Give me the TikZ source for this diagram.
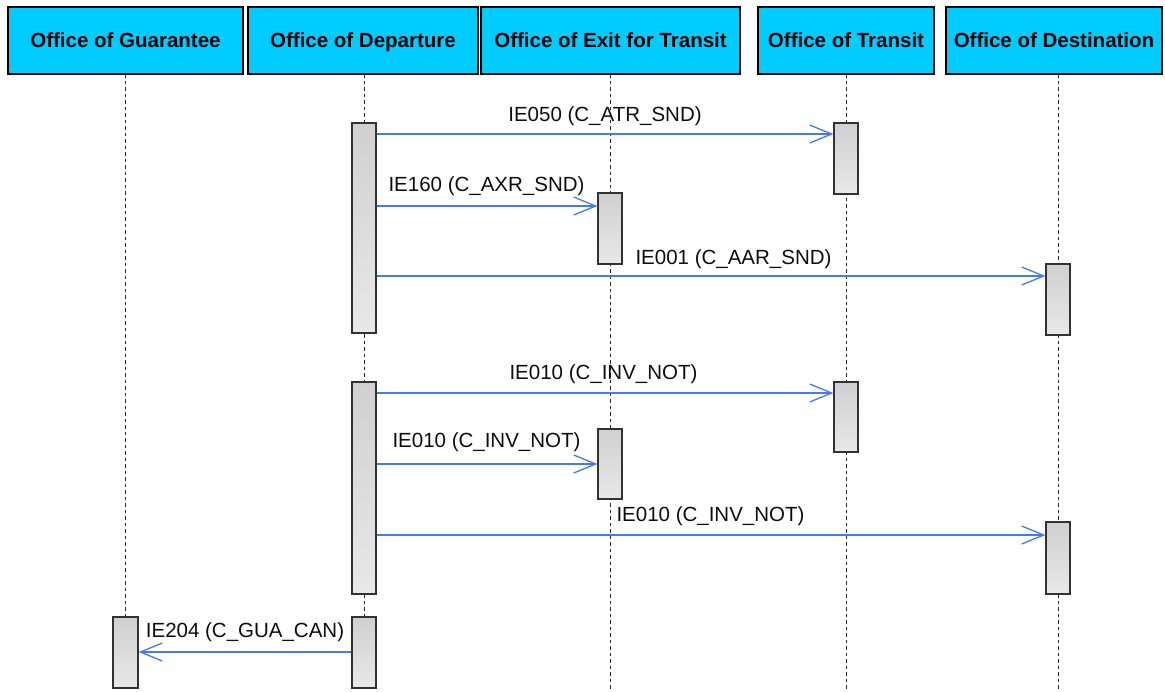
\documentclass[tikz,border=0pt]{standalone}
\usepackage{fontspec}
\setmainfont{Liberation Sans}
\usetikzlibrary{arrows.meta}
\definecolor{hdr}{RGB}{0,204,255}
\definecolor{msgblue}{RGB}{70,120,255}
\definecolor{bartop}{RGB}{208,208,208}
\definecolor{barbot}{RGB}{232,232,232}
\definecolor{barline}{RGB}{50,50,50}
\tikzset{
  hdrbox/.style={draw=black, line width=1.3pt, fill=hdr, inner sep=0pt, minimum height=67pt,
    text height=14.8pt, text depth=0pt,
    font=\fontsize{20.5}{24}\selectfont\bfseries},
  lifeline/.style={draw=black!85, line width=1pt, dash pattern=on 3.5pt off 3pt},
  actbar/.style={draw=barline, line width=1.2pt, top color=bartop, bottom color=barbot,
    minimum width=24pt, inner sep=0pt},
  msg/.style={draw=msgblue, line width=1.3pt, -{Straight Barb[length=22pt,width=18pt,line width=1.3pt]}},
  msglabel/.style={anchor=base, font=\fontsize{20.5}{24}\selectfont, text=black!95, inner sep=0pt}
}
\begin{document}
\begin{tikzpicture}[x=1pt,y=-1pt]
\useasboundingbox (0,0) rectangle (1165,691);
% headers
\node[hdrbox, minimum width=235pt] (hg) at (125.5,40.5) {Office of Guarantee};
\node[hdrbox, minimum width=230pt] (hd) at (363,40.5) {Office of Departure};
\node[hdrbox, minimum width=259pt] (he) at (610.5,40.5) {Office of Exit for Transit};
\node[hdrbox, minimum width=176pt] (ht) at (846,40.5) {Office of Transit};
\node[hdrbox, minimum width=216pt] (hn) at (1054,40.5) {Office of Destination};
% lifelines
\coordinate (lgt) at (125.5,74); \coordinate (lgb) at (125.5,691);
\coordinate (ldt) at (364,74);   \coordinate (ldb) at (364,691);
\coordinate (let) at (610,74);   \coordinate (leb) at (610,691);
\coordinate (ltt) at (846,74);   \coordinate (ltb) at (846,691);
\coordinate (lnt) at (1058,74);  \coordinate (lnb) at (1058,691);
\draw[lifeline] (lgt) -- (lgb);
\draw[lifeline] (ldt) -- (ldb);
\draw[lifeline] (let) -- (leb);
\draw[lifeline] (ltt) -- (ltb);
\draw[lifeline] (lnt) -- (lnb);
% activation bars
\node[actbar, minimum height=210pt] (d1) at (364,228) {};
\node[actbar, minimum height=71pt] (t1) at (846,158.5) {};
\node[actbar, minimum height=71pt] (e1) at (610,228.5) {};
\node[actbar, minimum height=71pt] (n1) at (1058,299.5) {};
\node[actbar, minimum height=212pt] (d2) at (364,488) {};
\node[actbar, minimum height=70pt] (t2) at (846,417) {};
\node[actbar, minimum height=70pt] (e2) at (610,464) {};
\node[actbar, minimum height=72pt] (n2) at (1058,558) {};
\node[actbar, minimum width=25pt, minimum height=71pt] (g1) at (125.5,652.5) {};
\node[actbar, minimum height=71pt] (d3) at (364,652.5) {};
% messages
\draw[msg] (d1.east |- 0,134) -- (t1.west |- 0,134);
\node[msglabel] (m1) at (605,121) {IE050 (C\_ATR\_SND)};
\draw[msg] (d1.east |- 0,206) -- (e1.west |- 0,206);
\node[msglabel] (m2) at (486.5,191) {IE160 (C\_AXR\_SND)};
\draw[msg] (d1.east |- 0,276) -- (n1.west |- 0,276);
\node[msglabel] (m3) at (733.5,264) {IE001 (C\_AAR\_SND)};
\draw[msg] (d2.east |- 0,393) -- (t2.west |- 0,393);
\node[msglabel] (m4) at (603.5,379) {IE010 (C\_INV\_NOT)};
\draw[msg] (d2.east |- 0,464) -- (e2.west |- 0,464);
\node[msglabel] (m5) at (486.5,447) {IE010 (C\_INV\_NOT)};
\draw[msg] (d2.east |- 0,535) -- (n2.west |- 0,535);
\node[msglabel] (m6) at (710.5,521) {IE010 (C\_INV\_NOT)};
\draw[msg] (d3.west |- 0,652) -- (g1.east |- 0,652);
\node[msglabel] (m7) at (245,637) {IE204 (C\_GUA\_CAN)};
\end{tikzpicture}
\end{document}
